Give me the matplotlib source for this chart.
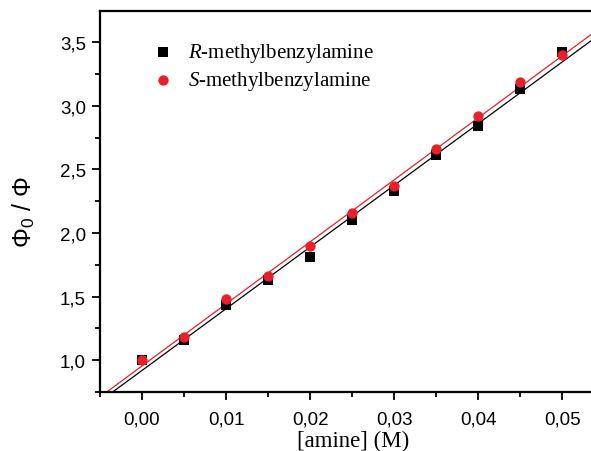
import numpy as np
import matplotlib
matplotlib.use("Agg")
import matplotlib.pyplot as plt
from matplotlib.ticker import MultipleLocator, FuncFormatter

plt.rcParams['mathtext.fontset'] = 'custom'
plt.rcParams['mathtext.it'] = 'Liberation Serif:italic'
plt.rcParams['mathtext.rm'] = 'Liberation Sans'

conc = [0.000, 0.005, 0.010, 0.015, 0.020, 0.025, 0.030, 0.035, 0.040, 0.045, 0.050]
r_vals = [1.00, 1.16, 1.43, 1.63, 1.81, 2.10, 2.33, 2.61, 2.84, 3.13, 3.42]
s_vals = [1.00, 1.18, 1.48, 1.66, 1.90, 2.16, 2.37, 2.66, 2.92, 3.19, 3.40]
labels = ["R", "S"]

red = "#e8202a"

fig = plt.figure(figsize=(5.91, 4.52), dpi=100)
ax = fig.add_axes([100/591, 1-393/452, 1-100/591 + 0.02, (393-12)/452])
ax.set_xlim(-0.005, 0.0548)
ax.set_ylim(0.75, 3.745)

xx = np.array([-0.006, 0.06])
for vals, col in [(r_vals, "black"), (s_vals, red)]:
    p = np.polyfit(conc, vals, 1)
    ax.plot(xx, np.polyval(p, xx), color=col, lw=0.9, zorder=2)

ax.scatter(conc, r_vals, marker="s", s=42, color="black", zorder=3, linewidths=0)
ax.scatter(conc, s_vals, marker="o", s=55, color=red, zorder=4, linewidths=0)

# legend
serif = "Liberation Serif"
ax.scatter([0.0025], [3.42], marker="s", s=42, color="black", linewidths=0, zorder=5)
ax.scatter([0.0025], [3.20], marker="o", s=55, color=red, linewidths=0, zorder=5)
ax.text(0.0055, 3.42, r"$\it{" + labels[0] + "}$-methylbenzylamine", family=serif,
        fontsize=15, va="center", ha="left")
ax.text(0.0055, 3.20, r"$\it{" + labels[1] + "}$-methylbenzylamine", family=serif,
        fontsize=15, va="center", ha="left")

ax.spines["right"].set_visible(False)
for s in ax.spines.values():
    s.set_linewidth(1.6)

ax.xaxis.set_major_locator(MultipleLocator(0.01))
ax.xaxis.set_minor_locator(MultipleLocator(0.005))
ax.yaxis.set_major_locator(MultipleLocator(0.5))
ax.yaxis.set_minor_locator(MultipleLocator(0.25))
ax.xaxis.set_major_formatter(FuncFormatter(lambda v, p: f"{v:.2f}".replace(".", ",")))
ax.yaxis.set_major_formatter(FuncFormatter(lambda v, p: f"{v:.1f}".replace(".", ",")))
ax.tick_params(which="major", direction="out", length=6, width=1.3, labelsize=13.5)
ax.tick_params(which="minor", direction="out", length=3.5, width=1.3)
for lab in ax.get_xticklabels() + ax.get_yticklabels():
    lab.set_family("Liberation Sans")
ax.tick_params(axis="x", pad=7)
ax.tick_params(axis="y", pad=4)

ax.set_xlabel("[amine] (M)", family=serif, fontsize=16.5)
ax.set_ylabel(r"$\Phi_0$ / $\Phi$", family="Liberation Sans", fontsize=18)
ax.xaxis.set_label_coords((357-100)/511, -(441-393)/381)
ax.xaxis.label.set_va("center")
ax.yaxis.set_label_coords(-(100-22)/511, (393-212)/381)
ax.yaxis.label.set_va("center")

fig.savefig("out.png", dpi=100)
